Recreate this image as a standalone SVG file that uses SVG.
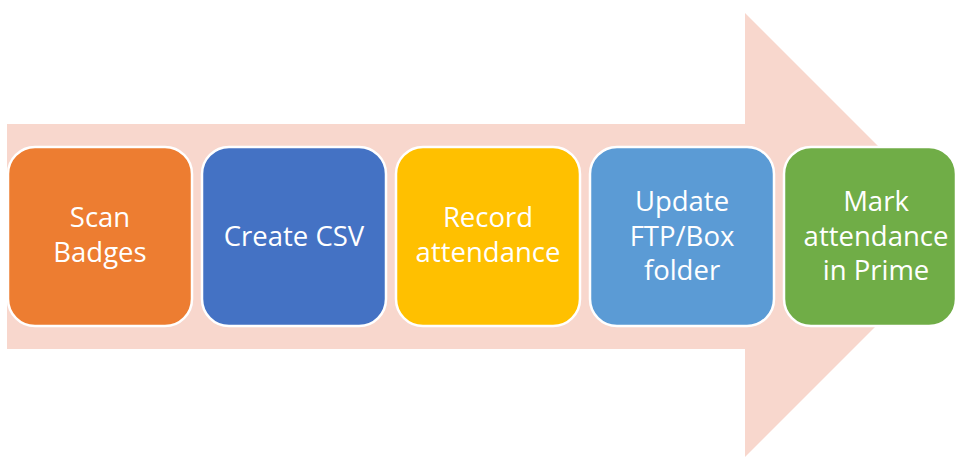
<svg xmlns="http://www.w3.org/2000/svg" width="957" height="457" viewBox="0 0 957 457">
<style>
.box{stroke:#ffffff;stroke-width:2.5}
.lbl{font-family:"Open Sans","Liberation Sans",sans-serif;font-size:27.5px;fill:#ffffff;text-anchor:middle}
</style>
<rect width="957" height="457" fill="#ffffff"/>
<g id="connectors">
<polygon points="7,124 745,124 745,13 967,235 745,457 745,349 7,349" fill="#F8D7CD"/>
</g>
<g id="scan">
<rect class="box" x="8" y="147" width="184" height="179" rx="27" fill="#ED7D31"/>
<text class="lbl" x="100" y="227">Scan</text>
<text class="lbl" x="100" y="262">Badges</text>
</g>
<g id="csv">
<rect class="box" x="202" y="147" width="184" height="179" rx="27" fill="#4472C4"/>
<text class="lbl" x="294" y="246">Create CSV</text>
</g>
<g id="record">
<rect class="box" x="396" y="147" width="184" height="179" rx="27" fill="#FFC000"/>
<text class="lbl" x="488" y="227">Record</text>
<text class="lbl" x="488" y="262">attendance</text>
</g>
<g id="update">
<rect class="box" x="590" y="147" width="184" height="179" rx="27" fill="#5B9BD5"/>
<text class="lbl" x="682" y="211">Update</text>
<text class="lbl" x="682" y="246">FTP/Box</text>
<text class="lbl" x="682" y="280">folder</text>
</g>
<g id="mark">
<rect class="box" x="784" y="147" width="172" height="179" rx="27" fill="#70AD47"/>
<text class="lbl" x="876" y="211">Mark</text>
<text class="lbl" x="876" y="246">attendance</text>
<text class="lbl" x="876" y="280">in Prime</text>
</g>
</svg>
